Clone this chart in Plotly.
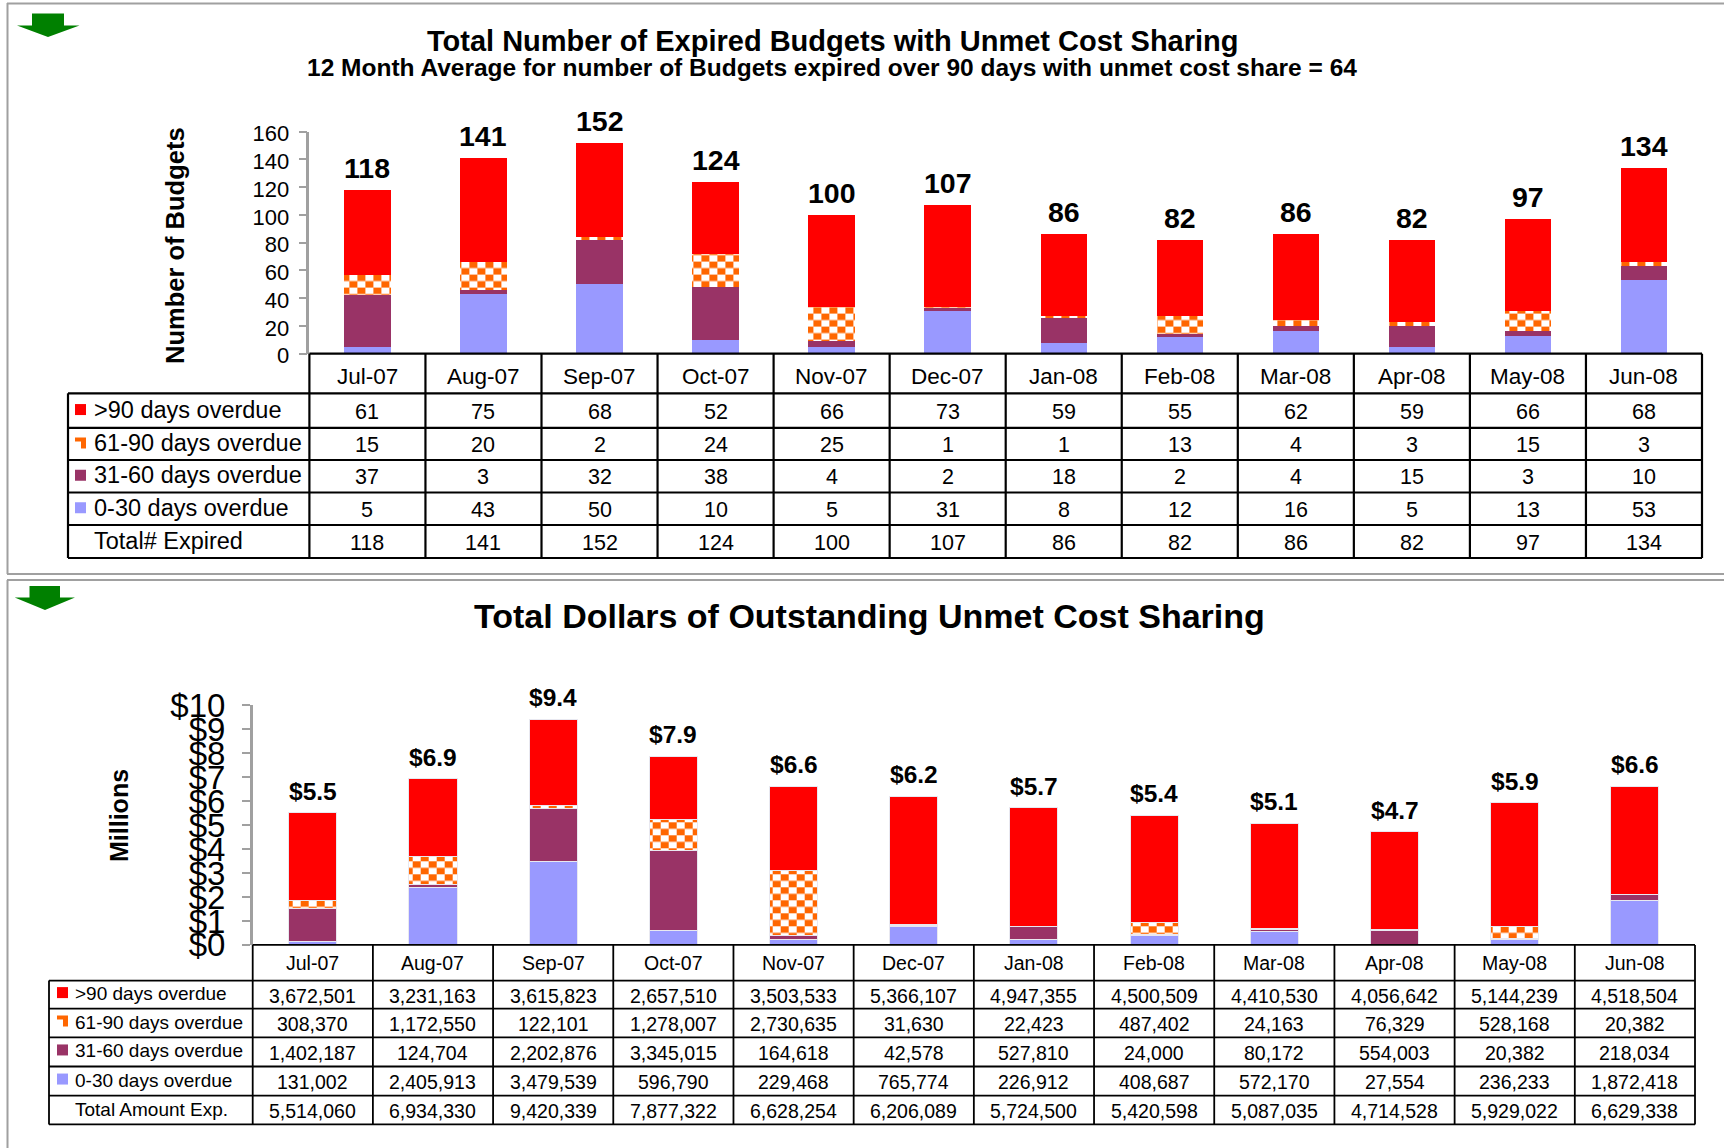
import plotly.graph_objects as go

W, H = 1724, 1148
months = ["Jul-07","Aug-07","Sep-07","Oct-07","Nov-07","Dec-07","Jan-08","Feb-08","Mar-08","Apr-08","May-08","Jun-08"]
row_labels = [">90 days overdue","61-90 days overdue","31-60 days overdue","0-30 days overdue"]

count_over90 = [61,75,68,52,66,73,59,55,62,59,66,68]
count_61_90 = [15,20,2,24,25,1,1,13,4,3,15,3]
count_31_60 = [37,3,32,38,4,2,18,2,4,15,3,10]
count_0_30 = [5,43,50,10,5,31,8,12,16,5,13,53]
count_total = [118,141,152,124,100,107,86,82,86,82,97,134]

usd_over90 = [3672501,3231163,3615823,2657510,3503533,5366107,4947355,4500509,4410530,4056642,5144239,4518504]
usd_61_90 = [308370,1172550,122101,1278007,2730635,31630,22423,487402,24163,76329,528168,20382]
usd_31_60 = [1402187,124704,2202876,3345015,164618,42578,527810,24000,80172,554003,20382,218034]
usd_0_30 = [131002,2405913,3479539,596790,229468,765774,226912,408687,572170,27554,236233,1872418]
usd_total = [5514060,6934330,9420339,7877322,6628254,6206089,5724500,5420598,5087035,4714528,5929022,6629338]

RED, ORANGE, PLUM, LAV = "#FF0000", "#FF6600", "#993366", "#9999FF"
FONT = "Liberation Sans"
GREY = "#A0A0A0"

def px(x): return x / W
def py(y): return 1 - y / H

fig = go.Figure()
shapes, notes = [], []

def line(x0, y0, x1, y1, color="black", width=2):
    shapes.append(dict(type="line", xref="paper", yref="paper", x0=px(x0), x1=px(x1),
                       y0=py(y0), y1=py(y1), line=dict(color=color, width=width)))

def rect(x0, y0, x1, y1, color):
    shapes.append(dict(type="rect", xref="paper", yref="paper", x0=px(x0), x1=px(x1),
                       y0=py(y0), y1=py(y1), fillcolor=color, line=dict(width=0)))

def poly(points, color):
    d = "M" + " L".join(f"{px(a):.5f},{py(b):.5f}" for a, b in points) + " Z"
    shapes.append(dict(type="path", xref="paper", yref="paper", path=d, fillcolor=color, line=dict(width=0)))

def text(x, y, s, size, bold=False, anchor="center", xref="paper", angle=0):
    notes.append(dict(x=x if xref != "paper" else px(x), y=py(y), xref=xref, yref="paper", text=f"<b>{s}</b>" if bold else s,
                      showarrow=False, xanchor=anchor, yanchor="middle", textangle=angle,
                      font=dict(family=FONT, size=size, color="black")))

def panel(series, xa, ya, ax_l, ax_r, y_bot, label_l, rows_y, label_x, grid_w, cell_size, label_size,
          head_size, head_dy, bar_line, swatch_x, swatch_dy, totals_text, total_name, total_cells, cell_fmt, val_scale,
          label_size_top, label_shift):
    xid = "x" if xa == 1 else f"x{xa}"
    yid = "y" if ya == 1 else f"y{ya}"
    colors = [LAV, PLUM, ORANGE, RED]
    for vals, col in zip(reversed(series), colors):
        pattern = dict(shape=".", size=16, solidity=0.72, fgcolor=ORANGE, bgcolor="white", fillmode="replace") if col == ORANGE else None
        fig.add_bar(x=months, y=[v / val_scale for v in vals], xaxis=xid, yaxis=yid,
                    marker=dict(color=col if col != ORANGE else "white", pattern=pattern, line=dict(color=bar_line, width=1)),
                    showlegend=False, hoverinfo="skip")
    for m, t, lab in zip(months, total_cells, totals_text):
        notes.append(dict(x=m, y=t / val_scale, xref=xid, yref=yid, text=f"<b>{lab}</b>", showarrow=False,
                          yanchor="bottom", yshift=label_shift, font=dict(family=FONT, size=label_size_top, color="black")))
    n = len(months)
    col_w = (ax_r - ax_l) / n
    header_top = y_bot
    for i in range(n + 1):
        line(ax_l + i * col_w, header_top, ax_l + i * col_w, rows_y[-1], width=grid_w)
    line(ax_l, header_top, ax_r, header_top, width=grid_w)
    line(label_l, rows_y[0], label_l, rows_y[-1], width=grid_w)
    for r in rows_y:
        line(label_l, r, ax_r, r, width=grid_w)
    for m in months:
        text(m, (header_top + rows_y[0]) / 2 + head_dy, m, head_size, xref=xid)
    all_rows = series + [total_cells]
    names = row_labels + [total_name]
    for i, (name, vals) in enumerate(zip(names, all_rows)):
        yc = (rows_y[i] + rows_y[i + 1]) / 2
        text(label_x, yc - 1, name, label_size, anchor="left")
        for m, v in zip(months, vals):
            text(m, yc + 1, cell_fmt(v), cell_size, xref=xid)
        if i < 4:
            y0 = yc + swatch_dy - 5.5
            x0 = swatch_x
            if i == 1:
                poly([(x0, y0), (x0 + 11, y0), (x0 + 11, y0 + 11), (x0 + 6, y0 + 11), (x0 + 6, y0 + 4), (x0, y0 + 4)], ORANGE)
            else:
                rect(x0, y0, x0 + 11, y0 + 11, [RED, None, PLUM, LAV][i])

line(7, 3.5, 1724, 3.5, GREY, 2)
line(7.5, 3, 7.5, 574, GREY, 2)
line(7, 574, 1724, 574, GREY, 2)
line(7, 580, 1724, 580, GREY, 2)
line(7.5, 580, 7.5, 1148, GREY, 2)

poly([(32, 13.5), (64, 13.5), (64, 25.5), (79.5, 25.5), (48, 37), (17, 25.5), (32, 25.5)], "#008000")
poly([(29.5, 586), (60, 586), (60, 597.5), (75, 597.5), (45, 610), (14.7, 597.5), (29.5, 597.5)], "#008000")

text(833, 41, "Total Number of Expired Budgets with Unmet Cost Sharing", 29, True)
text(832, 67, "12 Month Average for number of Budgets expired over 90 days with unmet cost share = 64", 24.5, True)
text(869, 616, "Total Dollars of Outstanding Unmet Cost Sharing", 34, True)
text(175, 246, "Number of Budgets", 25.5, True, angle=-90)
text(119, 815, "Millions", 25, True, angle=-90)

T_AX = (309.4, 1702, 131.6, 353.7)
B_AX = (252.7, 1695, 705.3, 944.9)

panel([count_over90, count_61_90, count_31_60, count_0_30], 1, 1, T_AX[0], T_AX[1], T_AX[3], 68,
      [393.3, 427.8, 460, 492.5, 525, 558], 92, 2.2, 21.5, 23.5, 22.5, 3, "rgba(0,0,0,0)", 75, -1,
      [str(v) for v in count_total], "Total# Expired", count_total, str, 1, 28.5, 4)
panel([usd_over90, usd_61_90, usd_31_60, usd_0_30], 2, 2, B_AX[0], B_AX[1], B_AX[3], 49,
      [980.6, 1008.6, 1037.4, 1066.5, 1095.6, 1124.4], 73, 1.8, 19.5, 19, 19.5, 0, "#E8E8F0", 57, -2,
      [f"${v / 1e6:.1f}" for v in usd_total], "Total Amount Exp.", usd_total, lambda v: f"{v:,}", 1e6, 24.5, 6)

x_common = dict(type="category", categoryorder="array", categoryarray=months, range=[-0.5, 11.5],
                showticklabels=False, ticks="", showline=False, showgrid=False, zeroline=False, fixedrange=True)
y_common = dict(showgrid=False, zeroline=False, showline=True, linecolor=GREY, linewidth=2.5, ticks="outside",
                tickcolor=GREY, tickwidth=1.5, ticklen=8, fixedrange=True)

fig.update_layout(
    width=W, height=H, margin=dict(l=0, r=0, t=0, b=0, autoexpand=False), paper_bgcolor="white", plot_bgcolor="white",
    barmode="stack", bargap=0.6, font=dict(family=FONT, color="black"),
    shapes=shapes, annotations=notes,
    xaxis=dict(domain=[px(T_AX[0]), px(T_AX[1])], anchor="y", **x_common),
    yaxis=dict(domain=[py(T_AX[3]), py(T_AX[2])], anchor="x", range=[0, 160], tick0=0, dtick=20, ticklabelstandoff=5,
               ticklabelshift=2, tickfont=dict(family=FONT, size=22, color="black"), **y_common),
    xaxis2=dict(domain=[px(B_AX[0]), px(B_AX[1])], anchor="y2", **x_common),
    yaxis2=dict(domain=[py(B_AX[3]), py(B_AX[2])], anchor="x2", range=[0, 10], tick0=0, dtick=1, tickprefix="$", ticklabelstandoff=10,
                tickfont=dict(family=FONT, size=33, color="black"), **y_common),
)

# plotly has no checkerboard pattern: redraw the pattern tile of the 61-90 series as one
CHECKER = """
document.body.style.margin='0';
document.querySelectorAll('pattern').forEach(function(p){
  p.setAttribute('width','16'); p.setAttribute('height','13');
  p.innerHTML='<rect width="16" height="13" fill="white"/>'+
    '<rect x="0" y="0" width="8" height="6.5" fill="#FF6600"/>'+
    '<rect x="8" y="6.5" width="8" height="6.5" fill="#FF6600"/>';
});
"""
fig.write_html("out.html", post_script=CHECKER, config={"displayModeBar": False})
